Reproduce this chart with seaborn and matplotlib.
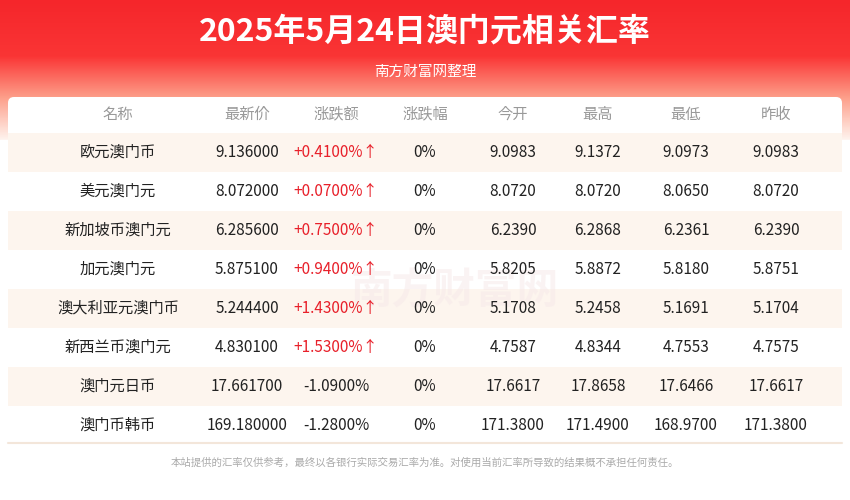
import seaborn as sns
import matplotlib.pyplot as plt
import matplotlib.transforms as mtransforms
import matplotlib.font_manager as fm
import numpy as np
from matplotlib.patches import FancyBboxPatch, Rectangle
from matplotlib.colors import LinearSegmentedColormap

sns.set_theme(style="white")
# find an installed CJK sans font
for f in fm.findSystemFonts():
    if "CJK" in f:
        try:
            fm.fontManager.addfont(f)
        except Exception:
            pass
cjk = [f.name for f in fm.fontManager.ttflist if "CJK" in f.name and "Sans" in f.name]
cjk_name = next((n for n in cjk if "SC" in n), cjk[0] if cjk else "DejaVu Sans")
plt.rcParams["font.family"] = "sans-serif"
plt.rcParams["font.sans-serif"] = [cjk_name, "DejaVu Sans"]
plt.rcParams["axes.unicode_minus"] = False

title = "2025年5月24日澳门元相关汇率"
subtitle = "南方财富网整理"
footer = "本站提供的汇率仅供参考，最终以各银行实际交易汇率为准。对使用当前汇率所导致的结果概不承担任何责任。"

headers = ["名称", "最新价", "涨跌额", "涨跌幅", "今开", "最高", "最低", "昨收"]
names = ["欧元澳门币", "美元澳门元", "新加坡币澳门元", "加元澳门元", "澳大利亚元澳门币",
         "新西兰币澳门元", "澳门元日币", "澳门币韩币"]
latest = ["9.136000", "8.072000", "6.285600", "5.875100", "5.244400", "4.830100", "17.661700", "169.180000"]
change = ["+0.4100%↑", "+0.0700%↑", "+0.7500%↑", "+0.9400%↑", "+1.4300%↑", "+1.5300%↑", "-1.0900%", "-1.2800%"]
pct = ["0%"] * 8
open_ = ["9.0983", "8.0720", "6.2390", "5.8205", "5.1708", "4.7587", "17.6617", "171.3800"]
high = ["9.1372", "8.0720", "6.2868", "5.8872", "5.2458", "4.8344", "17.8658", "171.4900"]
low = ["9.0973", "8.0650", "6.2361", "5.8180", "5.1691", "4.7553", "17.6466", "168.9700"]
prev = ["9.0983", "8.0720", "6.2390", "5.8751", "5.1704", "4.7575", "17.6617", "171.3800"]

col_x = [118, 247, 336, 425, 513, 598, 686, 776]

fig = plt.figure(figsize=(8.5, 5), dpi=100)
ax = fig.add_axes([0, 0, 1, 1])

# red gradient header
grad = np.linspace(0, 1, 200)[:, None]
cmap = LinearSegmentedColormap.from_list("hdr", [(0, "#f5262b"), (0.4, "#fa3535"),
                                                 (0.7, "#fd9f8a"), (1, "#fff3ee")])
ax.imshow(grad, extent=(0, 850, 140, 0), cmap=cmap, aspect="auto", zorder=0)
ax.add_patch(Rectangle((0, 140), 850, 360, color="white", zorder=0))

# card
ax.add_patch(FancyBboxPatch((8, 97), 834, 346, boxstyle="round,pad=0,rounding_size=6",
                            fc="white", ec="none", zorder=1))
# striped rows
stripe = np.array([[1 if i % 2 == 0 else 0] for i in range(8)])
sns.heatmap(stripe, ax=ax, cmap=["white", "#fdf5ee"], cbar=False, xticklabels=False,
            yticklabels=False, linewidths=0)
mesh = ax.collections[-1]
mesh.set_zorder(1.5)
mesh.set_transform(mtransforms.Affine2D().scale(834, 39).translate(8, 133) + ax.transData)
ax.set_xlim(0, 850)
ax.set_ylim(500, 0)
ax.axis("off")
ax.plot([8, 842], [443, 443], color="#f3e6da", lw=1.5, zorder=2)

ax.text(425, 32, title, ha="center", va="center", color="white", fontsize=23,
        fontweight="bold", zorder=3)
ax.text(425, 72, subtitle, ha="center", va="center", color="white", fontsize=10.5, zorder=3)

# watermark
ax.text(455, 292, "南方财富网", ha="center", va="center", color="#f6e9e9", fontsize=30,
        fontweight="bold", zorder=2, alpha=0.5)

for x, h in zip(col_x, headers):
    ax.text(x, 114, h, ha="center", va="center", color="#999999", fontsize=11, zorder=3)

for i in range(8):
    y = 152.5 + 39 * i
    row = [names[i], latest[i], change[i], pct[i], open_[i], high[i], low[i], prev[i]]
    for j, (x, v) in enumerate(zip(col_x, row)):
        color = "#222222"
        if j == 2 and v.startswith("+"):
            color = "#e8202a"
        ax.text(x, y, v, ha="center", va="center", color=color, fontsize=11, zorder=3)

ax.text(425, 463, footer, ha="center", va="center", color="#aaaaaa", fontsize=7.5, zorder=3)

fig.savefig("out.png", dpi=100)
